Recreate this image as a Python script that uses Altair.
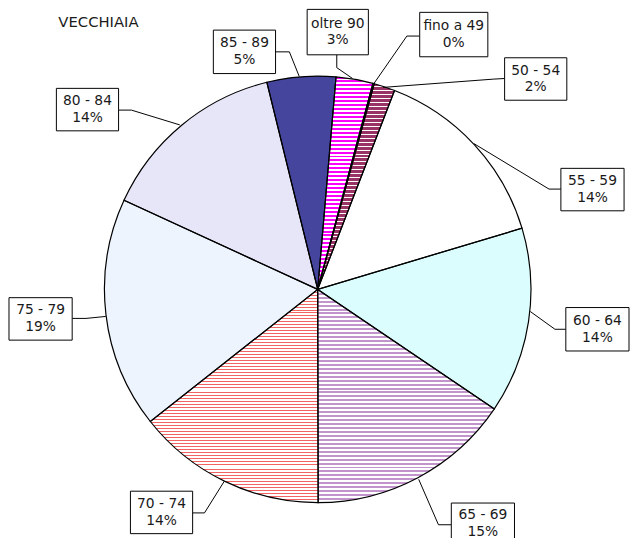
import math
import altair as alt
import pandas as pd

# ---------------- data ----------------
categories = ["fino a 49", "50 - 54", "55 - 59", "60 - 64", "65 - 69",
              "70 - 74", "75 - 79", "80 - 84", "85 - 89", "oltre 90"]
shares = [0.1, 1.6, 14.5, 14.1, 15.5, 14.4, 17.5, 14.3, 5.2, 2.8]
pct_labels = ["0%", "2%", "14%", "14%", "15%", "14%", "19%", "14%", "5%", "3%"]
title_text = "VECCHIAIA"

# ---------------- layout (page pixels) ----------------
M = 8                      # page margin
W, H = 630, 530
START_DEG = 15.0
CX, CY, R = 321.7, 289.6, 216

box_x0 = [425, 511, 568, 573, 457, 132, 9, 57, 216, 311]
box_x1 = [494, 574, 632, 637, 521, 195, 73, 120, 279, 373]
box_y0 = [9, 55, 167, 308, 506, 494, 298, 86, 27, 6]
box_y1 = [54, 98, 210, 352, 548, 537, 341, 129, 71, 52]
leaders = [
    [(425, 33), (412, 33), (378, 82)],
    [(511, 76), (500, 76.6), (388, 85)],
    [(568, 188), (556, 188), (480, 142)],
    [(573, 330), (562, 330), (537, 312)],
    [(457, 528), (444, 528), (424, 482)],
    [(195, 516), (207, 516), (227, 484)],
    [(73, 319), (87, 319), (107, 317)],
    [(120, 108), (133, 108), (182, 123)],
    [(279, 49), (293, 49), (303, 74)],
    [(341, 52), (341, 65), (357, 76)],
]

# ---------------- styles ----------------
base_colors = ["#9999ff", "#ffffff", "#ffffff", "#dcfdfd", "#ffffff",
               "#ffffff", "#edf4fd", "#e6e6f8", "#45459e", "#ffffff"]
# category -> (stripe color, period px, stripe rows px)
stripe_styles = {
    "50 - 54": ("#993366", 4, 3),
    "65 - 69": ("#c294cc", 4, 2),
    "70 - 74": ("#f26464", 3, 1),
    "oltre 90": ("#ff00ff", 4, 2),
}
FONT = "DejaVu Sans"

# ---------------- tables ----------------
pie_df = pd.DataFrame({"cat": categories, "share": shares,
                       "order": list(range(len(categories)))})
start_rad = math.radians(START_DEG)


def slice_y_extent(cat):
    total = sum(shares)
    i = categories.index(cat)
    a1 = START_DEG + 360.0 * sum(shares[:i]) / total
    a2 = START_DEG + 360.0 * sum(shares[:i + 1]) / total
    angs = [a1, a2] + [k * 90 for k in range(-4, 10) if a1 < k * 90 < a2]
    ys = [CY] + [CY - R * math.cos(math.radians(a)) for a in angs]
    return min(ys), max(ys)


def stripes(cat):
    """Pixel-aligned horizontal hatch as a linear gradient over the slice's box."""
    color, period, w = stripe_styles[cat]
    y0, y1 = slice_y_extent(cat)
    h = y1 - y0

    def off(y):
        return round(min(1.0, max(0.0, (y - y0) / h)), 6)

    stops = []
    Y = math.floor(y0)
    while Y < y1:
        stops += [{"offset": off(Y), "color": color},
                  {"offset": off(Y + w), "color": color},
                  {"offset": off(Y + w), "color": "#ffffff"},
                  {"offset": off(Y + period), "color": "#ffffff"}]
        Y += period
    return alt.LinearGradient(gradient="linear", x1=0, y1=0, x2=0, y2=1, stops=stops)


def arc_base():
    return (
        alt.Chart(pie_df)
        .transform_window(cum="sum(share)", sort=[alt.SortField("order")], frame=[None, 0])
        .transform_joinaggregate(total="sum(share)")
        .transform_calculate(
            t1=f"{start_rad} + 2*PI*(datum.cum - datum.share)/datum.total",
            t2=f"{start_rad} + 2*PI*datum.cum/datum.total",
        )
    )


def arc_enc(ch):
    return ch.encode(
        theta=alt.Theta("t1:Q", scale=None, stack=False),
        theta2=alt.Theta2("t2:Q"),
        x=alt.value(CX - M),
        y=alt.value(CY - M),
    )


base = arc_enc(arc_base().mark_arc(radius=R, strokeWidth=0)).encode(
    fill=alt.Fill("cat:N", scale=alt.Scale(domain=categories, range=base_colors), legend=None)
)

overlays = []
for cat in stripe_styles:
    overlays.append(
        arc_enc(arc_base().transform_filter(alt.datum.cat == cat)
                .mark_arc(radius=R, fill=stripes(cat), strokeWidth=0))
    )

outline = arc_enc(arc_base().mark_arc(radius=R, fill="white", fillOpacity=0,
                                      stroke="black", strokeWidth=1.2))

lead_rows = []
for cat, pts in zip(categories, leaders):
    for k, (px, py) in enumerate(pts):
        lead_rows.append({"cat": cat, "k": k, "x": px - M, "y": py - M})
lead_df = pd.DataFrame(lead_rows)

leader_layer = alt.Chart(lead_df).mark_line(color="black", strokeWidth=1).encode(
    x=alt.X("x:Q", scale=None, axis=None),
    y=alt.Y("y:Q", scale=None, axis=None),
    detail="cat:N",
    order="k:Q",
)

box_df = pd.DataFrame({
    "cat": categories,
    "pct": pct_labels,
    "x0": [v - M for v in box_x0], "x1": [v - M for v in box_x1],
    "y0": [v - M for v in box_y0], "y1": [v - M for v in box_y1],
})
box_df["xc"] = (box_df["x0"] + box_df["x1"]) / 2
box_df["yc"] = (box_df["y0"] + box_df["y1"]) / 2
box_df["ya"] = box_df["yc"] - 8.5
box_df["yb"] = box_df["yc"] + 8.5

box_layer = alt.Chart(box_df).mark_rect(fill="white", stroke="black", strokeWidth=1).encode(
    x=alt.X("x0:Q", scale=None, axis=None), x2="x1:Q",
    y=alt.Y("y0:Q", scale=None, axis=None), y2="y1:Q",
)
txt1 = alt.Chart(box_df).mark_text(font=FONT, fontSize=14, color="#1a1a1a",
                                   align="center", baseline="middle").encode(
    x=alt.X("xc:Q", scale=None, axis=None), y=alt.Y("ya:Q", scale=None, axis=None),
    text="cat:N",
)
txt2 = alt.Chart(box_df).mark_text(font=FONT, fontSize=14, color="#1a1a1a",
                                   align="center", baseline="middle").encode(
    x=alt.X("xc:Q", scale=None, axis=None), y=alt.Y("yb:Q", scale=None, axis=None),
    text="pct:N",
)

title_df = pd.DataFrame({"t": [title_text], "x": [59 - M], "y": [19 - M]})
title_layer = alt.Chart(title_df).mark_text(font=FONT, fontSize=15, color="#1a1a1a",
                                            align="left", baseline="middle").encode(
    x=alt.X("x:Q", scale=None, axis=None), y=alt.Y("y:Q", scale=None, axis=None),
    text="t:N",
)

chart = alt.layer(base, *overlays, outline, leader_layer, box_layer, txt1, txt2, title_layer).properties(
    width=W, height=H, padding=0,
    autosize=alt.AutoSizeParams(type="none"),
).configure_view(strokeWidth=0)

chart.save("out.html", embed_options={"renderer": "svg", "actions": False})
